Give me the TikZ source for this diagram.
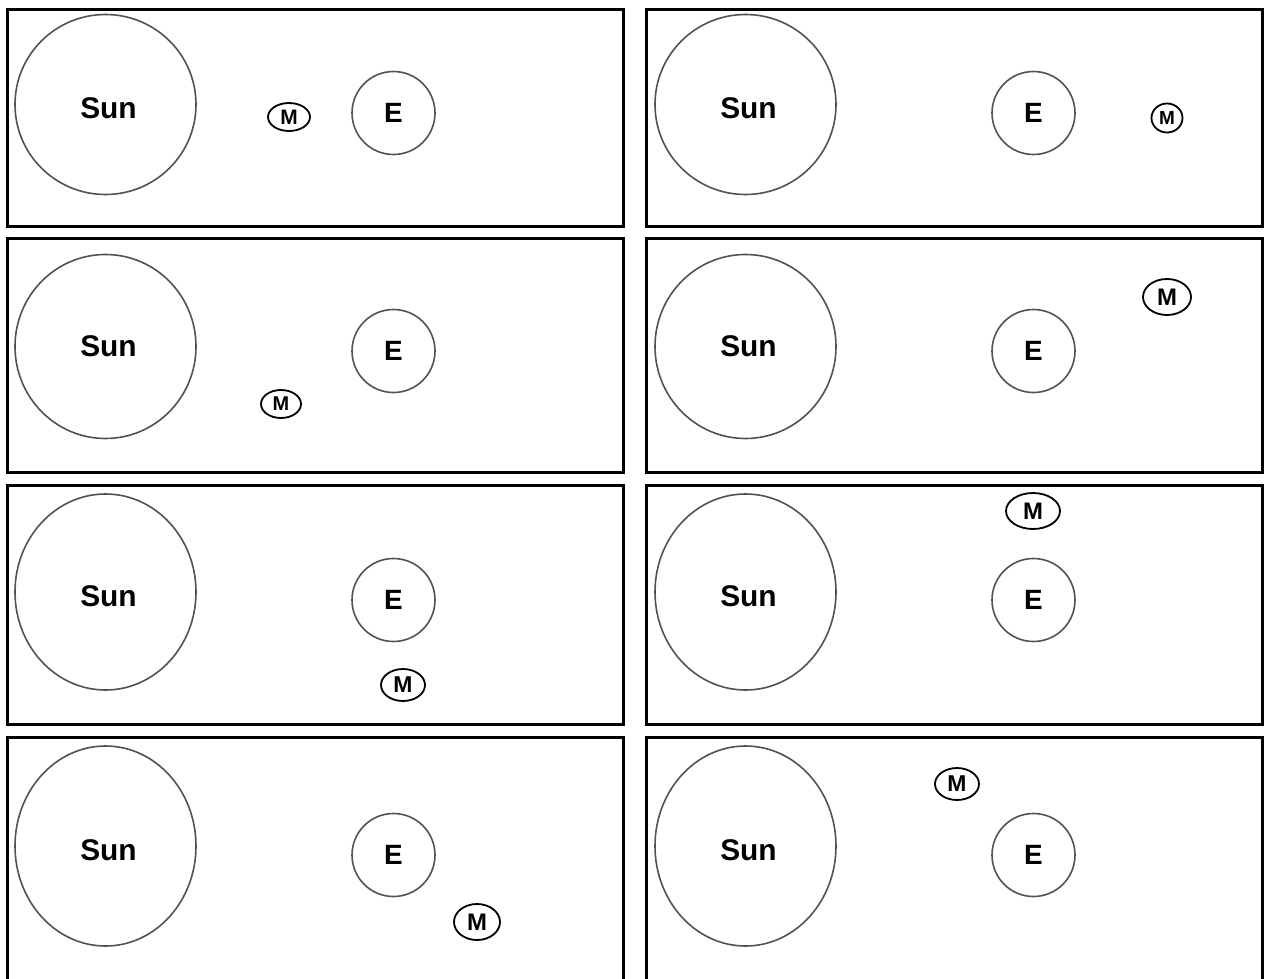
\documentclass[tikz,border=0pt]{standalone}
\usepackage{fontspec}
\setmainfont{Liberation Sans}
\usetikzlibrary{shapes.geometric}
\begin{document}
\begin{tikzpicture}[x=1bp,y=-1bp,
  panel/.style={draw=black,line width=3bp},
  sunbody/.style={ellipse,draw=black!68,line width=1.6bp,minimum width=181bp,inner sep=0pt},
  suntxt/.style={inner sep=0pt,font=\fontsize{30}{32}\selectfont\bfseries},
  earth/.style={circle,draw=black!68,line width=1.6bp,minimum size=83bp,inner sep=0pt,
    font=\fontsize{28}{30}\selectfont\bfseries},
  moon/.style={ellipse,draw=black,line width=1.8bp,inner sep=0pt,
    font=\fontsize{24}{26}\selectfont\bfseries}]
\useasboundingbox (0,0) rectangle (1266,979);
\clip (0,0) rectangle (1266,979);
\fill[white] (0,0) rectangle (1266,979);
% panels
\draw[panel] (7,9.5) rectangle (623.5,226);
\draw[panel] (646.5,9.5) rectangle (1262.5,226);
\draw[panel] (7,238.5) rectangle (623.5,472.5);
\draw[panel] (646.5,238.5) rectangle (1262.5,472.5);
\draw[panel] (7,485) rectangle (623.5,724.5);
\draw[panel] (646.5,485) rectangle (1262.5,724.5);
\draw[panel] (7,737) rectangle (623.5,990);
\draw[panel] (646.5,737) rectangle (1262.5,990);
% suns
\node[sunbody,minimum height=180bp] (s1l) at (105.5,104.5) {};
\node[sunbody,minimum height=180bp] (s1r) at (745.5,104.5) {};
\node[sunbody,minimum height=184bp] (s2l) at (105.5,346.5) {};
\node[sunbody,minimum height=184bp] (s2r) at (745.5,346.5) {};
\node[sunbody,minimum height=196bp] (s3l) at (105.5,592) {};
\node[sunbody,minimum height=196bp] (s3r) at (745.5,592) {};
\node[sunbody,minimum height=200bp] (s4l) at (105.5,846) {};
\node[sunbody,minimum height=200bp] (s4r) at (745.5,846) {};
\node[suntxt] (t1l) at (108.5,108) {Sun};
\node[suntxt] (t1r) at (748.5,108) {Sun};
\node[suntxt] (t2l) at (108.5,346.5) {Sun};
\node[suntxt] (t2r) at (748.5,346.5) {Sun};
\node[suntxt] (t3l) at (108.5,596) {Sun};
\node[suntxt] (t3r) at (748.5,596) {Sun};
\node[suntxt] (t4l) at (108.5,850) {Sun};
\node[suntxt] (t4r) at (748.5,850) {Sun};
% earths
\node[earth] (e1l) at (393.5,113) {E};
\node[earth] (e1r) at (1033.5,113) {E};
\node[earth] (e2l) at (393.5,351) {E};
\node[earth] (e2r) at (1033.5,351) {E};
\node[earth] (e3l) at (393.5,600) {E};
\node[earth] (e3r) at (1033.5,600) {E};
\node[earth] (e4l) at (393.5,855) {E};
\node[earth] (e4r) at (1033.5,855) {E};
% moons
\node[moon,minimum width=42bp,minimum height=28bp,font=\fontsize{21}{23}\selectfont\bfseries] (m1l) at (289,117) {M};
\node[moon,minimum width=31bp,minimum height=29bp,font=\fontsize{19}{21}\selectfont\bfseries] (m1r) at (1167,118) {M};
\node[moon,minimum width=40bp,minimum height=28bp,font=\fontsize{20}{22}\selectfont\bfseries] (m2l) at (281,404) {M};
\node[moon,minimum width=48bp,minimum height=36bp] (m2r) at (1167,297) {M};
\node[moon,minimum width=44bp,minimum height=32bp,font=\fontsize{23}{25}\selectfont\bfseries] (m3l) at (403,685) {M};
\node[moon,minimum width=54bp,minimum height=36bp] (m3r) at (1033,511) {M};
\node[moon,minimum width=46bp,minimum height=36bp] (m4l) at (477,922) {M};
\node[moon,minimum width=44bp,minimum height=32bp,font=\fontsize{23}{25}\selectfont\bfseries] (m4r) at (957,784) {M};
\end{tikzpicture}
\end{document}
